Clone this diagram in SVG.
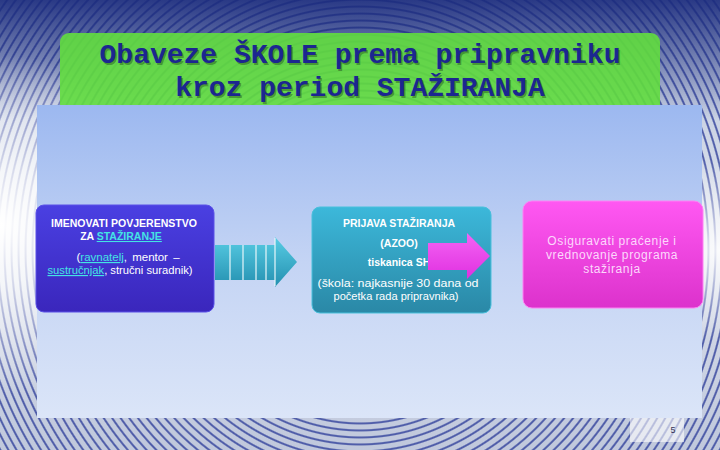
<svg xmlns="http://www.w3.org/2000/svg" width="720" height="450" viewBox="0 0 720 450">
<defs>
<style>
.t{font-family:"Liberation Mono","Courier New",monospace;font-weight:bold;font-size:28px;text-anchor:middle}
.w{font-family:"Liberation Sans",Arial,sans-serif;fill:#fff;text-anchor:middle;font-size:10.5px}
.s{font-size:11.5px}
.b{font-weight:bold}
.lnk{fill:#44e4e4;text-decoration:underline}
.p{font-family:"Liberation Sans",Arial,sans-serif;fill:#fcd8fc;text-anchor:middle;font-size:12px;letter-spacing:0.6px}
</style>
<linearGradient id="bg" x1="0" y1="0" x2="0" y2="1">
<stop offset="0" stop-color="#b8c4dc"/><stop offset="0.5" stop-color="#dde2ec"/><stop offset="1" stop-color="#c0c8dc"/>
</linearGradient>
<radialGradient id="rings" gradientUnits="userSpaceOnUse" cx="360" cy="250" r="7" spreadMethod="repeat">
<stop offset="0" stop-color="#2a3a98" stop-opacity="0"/>
<stop offset="0.55" stop-color="#2a3a98" stop-opacity="0"/>
<stop offset="0.72" stop-color="#2a3a98" stop-opacity="0.75"/>
<stop offset="0.84" stop-color="#2a3a98" stop-opacity="0.75"/>
<stop offset="1" stop-color="#2a3a98" stop-opacity="0"/>
</radialGradient>
<linearGradient id="topdark" x1="0" y1="0" x2="0" y2="1">
<stop offset="0" stop-color="#1a2a7c" stop-opacity="0.9"/><stop offset="1" stop-color="#1a2a7c" stop-opacity="0"/>
</linearGradient>
<radialGradient id="glowL" gradientUnits="userSpaceOnUse" cx="0" cy="225" r="170">
<stop offset="0" stop-color="#fff" stop-opacity="1"/><stop offset="0.35" stop-color="#fff" stop-opacity="0.75"/><stop offset="1" stop-color="#fff" stop-opacity="0"/>
</radialGradient>
<radialGradient id="glowR" gradientUnits="userSpaceOnUse" cx="720" cy="250" r="90">
<stop offset="0" stop-color="#fff" stop-opacity="0.9"/><stop offset="1" stop-color="#fff" stop-opacity="0"/>
</radialGradient>
<linearGradient id="panel" x1="0" y1="0" x2="0" y2="1">
<stop offset="0" stop-color="#9cb8f0"/><stop offset="0.5" stop-color="#c4d4f4"/><stop offset="1" stop-color="#dbe5f8"/>
</linearGradient>
<linearGradient id="g1" x1="0" y1="0" x2="0" y2="1">
<stop offset="0" stop-color="#4a40e2"/><stop offset="1" stop-color="#3a26bc"/>
</linearGradient>
<linearGradient id="g2" x1="0" y1="0" x2="0" y2="1">
<stop offset="0" stop-color="#3cb8da"/><stop offset="1" stop-color="#2a88a6"/>
</linearGradient>
<linearGradient id="g3" x1="0" y1="0" x2="0" y2="1">
<stop offset="0" stop-color="#ff58f2"/><stop offset="1" stop-color="#dc32cc"/>
</linearGradient>
<linearGradient id="ga" x1="0" y1="0" x2="0" y2="1">
<stop offset="0" stop-color="#58cce4"/><stop offset="1" stop-color="#2490b0"/>
</linearGradient>
<linearGradient id="gp" x1="0" y1="0" x2="0" y2="1">
<stop offset="0" stop-color="#f464f4"/><stop offset="1" stop-color="#e030e0"/>
</linearGradient>
</defs>

<g id="background">
<rect width="720" height="450" fill="url(#bg)"/>
<rect width="720" height="450" fill="url(#rings)"/>
<rect width="720" height="120" fill="url(#topdark)"/>
<rect width="720" height="450" fill="url(#glowL)"/>
<rect width="720" height="450" fill="url(#glowR)"/>
</g>

<g id="title">
<rect x="60" y="33" width="600" height="90" rx="9" fill="#62de3e" fill-opacity="0.9"/>
<text class="t" x="361.5" y="64.5" fill="#000" fill-opacity="0.3">Obaveze ŠKOLE prema pripravniku</text>
<text class="t" x="361.5" y="97.5" fill="#000" fill-opacity="0.3">kroz period STAŽIRANJA</text>
<text class="t" x="360" y="63" fill="#1c2690">Obaveze ŠKOLE prema pripravniku</text>
<text class="t" x="360" y="96" fill="#1c2690">kroz period STAŽIRANJA</text>
</g>

<g id="panel">
<rect x="37" y="105" width="665" height="313" fill="url(#panel)"/>
</g>

<g id="pagenum">
<rect x="630" y="418" width="54" height="24" fill="#fff" fill-opacity="0.6"/>
<text x="673" y="433" font-family="Liberation Sans,Arial,sans-serif" font-size="9" fill="#333355" text-anchor="middle">5</text>
</g>

<g id="node1">
<rect x="36" y="205" width="178" height="107" rx="8" fill="url(#g1)" stroke="#5a50e8" stroke-width="1"/>
<text class="w b" x="124" y="227" textLength="146" lengthAdjust="spacingAndGlyphs">IMENOVATI POVJERENSTVO</text>
<text class="w b" x="121" y="240"><tspan>ZA  </tspan><tspan class="lnk">STAŽIRANJE</tspan></text>
<text class="w s" x="128" y="261" word-spacing="2">(<tspan class="lnk">ravnatelj</tspan>, mentor –</text>
<text class="w s" x="120" y="274" textLength="145" lengthAdjust="spacingAndGlyphs"><tspan class="lnk">sustručnjak</tspan>, stručni suradnik)</text>
</g>

<g id="node2">
<rect x="312" y="207" width="179" height="106" rx="8" fill="url(#g2)" stroke="#48c0dc" stroke-width="1"/>
<text class="w b" x="399" y="227">PRIJAVA STAŽIRANJA</text>
<text class="w b" x="399" y="247">(AZOO)</text>
<text class="w b" x="399" y="266">tiskanica SH</text>
<text class="w s" x="398" y="287" textLength="161" lengthAdjust="spacingAndGlyphs">(škola: najkasnije 30 dana od</text>
<text class="w s" x="396" y="300" textLength="125" lengthAdjust="spacingAndGlyphs">početka rada pripravnika)</text>
</g>

<g id="node3">
<rect x="523" y="201" width="180" height="107" rx="9" fill="url(#g3)" stroke="#ff80f4" stroke-width="1"/>
<text class="p" x="612" y="245">Osiguravati praćenje i</text>
<text class="p" x="612" y="259">vrednovanje programa</text>
<text class="p" x="612" y="273">stažiranja</text>
</g>

<g id="connectors">
<g id="arrow1">
<path d="M215,245 H275 V237 L297,262 L275,287 V280 H215 Z" fill="url(#ga)"/>
<g stroke="#e8f6fa" stroke-width="1.2">
<line x1="230" y1="245" x2="230" y2="280"/>
<line x1="243" y1="245" x2="243" y2="280"/>
<line x1="256" y1="245" x2="256" y2="280"/>
<line x1="266" y1="245" x2="266" y2="280"/>
<line x1="275" y1="238" x2="275" y2="286"/>
</g>
</g>
<path id="arrow2" d="M428,243 H467 V233 L490,256 L467,279 V270 H428 Z" fill="url(#gp)"/>
</g>
</svg>
